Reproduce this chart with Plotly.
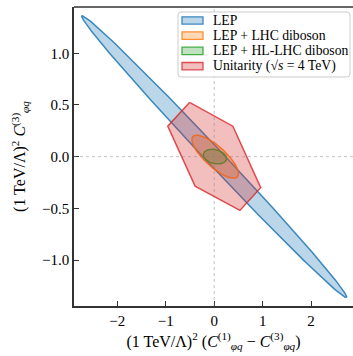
import numpy as np
import re
import plotly.graph_objects as go

# ---- data ----
# ellipses: centre and two conjugate half-diameters (data units)
lep_center = (0.0, 0.0)
lep_u = (2.725, -1.363)
lep_w = (0.235, 0.0)

lhc_center = (0.02, 0.0)
lhc_u = (0.46, -0.195)
lhc_w = (0.14, 0.075)

hllhc_center = (0.015, 0.0)
hllhc_u = (0.24, -0.022)
hllhc_w = (0.016, 0.068)

# unitarity hexagon vertices
unit_x = [-0.51, 0.385, 0.96, 0.53, -0.395, -0.96, -0.51]
unit_y = [0.525, 0.295, -0.30, -0.52, -0.285, 0.295, 0.525]

x_ticks = [-2, -1, 0, 1, 2]
y_ticks = [-1.0, -0.5, 0.0, 0.5, 1.0]
y_ticktext = ["−1.0", "−0.5", "0.0", "0.5", "1.0"]

labels = ["LEP", "LEP + LHC diboson", "LEP + HL-LHC diboson",
          "Unitarity (√<i>s</i> = 4 TeV)"]
fills = ["rgba(31,119,180,0.3)", "rgba(255,127,14,0.3)",
         "rgba(44,160,44,0.3)", "rgba(214,39,40,0.3)"]
edges = ["rgba(31,119,180,0.85)", "rgba(255,127,14,0.85)",
         "rgba(44,160,44,0.85)", "rgba(214,39,40,0.8)"]


def ellipse(c, u, w, n=300):
    t = np.linspace(0, 2 * np.pi, n)
    x = c[0] + np.cos(t) * u[0] + np.sin(t) * w[0]
    y = c[1] + np.cos(t) * u[1] + np.sin(t) * w[1]
    return x, y


# plot-area geometry in pixels (for legend placement)
W, H = 353, 356
ML, MR, MT, MB = 74, 0, 7, 50
PW, PH = W - ML - MR, H - MT - MB


def px(xp):
    return (xp - ML) / PW


def py(yp):
    return (H - MB - yp) / PH


fig = go.Figure()
shapes_xy = [ellipse(lep_center, lep_u, lep_w),
             ellipse(lhc_center, lhc_u, lhc_w),
             ellipse(hllhc_center, hllhc_u, hllhc_w),
             (unit_x, unit_y)]
for (x, y), lab, fc, ec in zip(shapes_xy, labels, fills, edges):
    fig.add_trace(go.Scatter(x=x, y=y, mode="lines", fill="toself",
                             fillcolor=fc, line=dict(color=ec, width=1.5),
                             name=lab, hoverinfo="skip", showlegend=False))

font_family = "Liberation Serif, DejaVu Serif, serif"

shapes = [
    dict(type="line", xref="x", yref="paper", x0=0, x1=0, y0=0, y1=1,
         line=dict(color="rgba(128,128,128,0.6)", width=0.8, dash="dot"),
         layer="above"),
    dict(type="line", xref="paper", yref="y", x0=0, x1=1, y0=0, y1=0,
         line=dict(color="rgba(128,128,128,0.6)", width=0.8, dash="dot"),
         layer="above"),
    dict(type="line", xref="paper", yref="paper", x0=0, x1=1, y0=1, y1=1,
         line=dict(color="#333333", width=1.5), layer="above"),
]

# manual legend (matplotlib style)
bx0, bx1, by0, by1, r = 178, 350, 12, 77, 3
path = (f"M {bx0 + r},{by0} L {bx1 - r},{by0} Q {bx1},{by0} {bx1},{by0 + r} "
        f"L {bx1},{by1 - r} Q {bx1},{by1} {bx1 - r},{by1} "
        f"L {bx0 + r},{by1} Q {bx0},{by1} {bx0},{by1 - r} "
        f"L {bx0},{by0 + r} Q {bx0},{by0} {bx0 + r},{by0} Z")


def conv(m):
    a, b = float(m.group(1)), float(m.group(2))
    return f"{px(a):.5f},{py(b):.5f}"


path = re.sub(r"([\d.]+),([\d.]+)", conv, path)
shapes.append(dict(type="path", xref="paper", yref="paper", path=path,
                   fillcolor="rgba(255,255,255,0.8)",
                   line=dict(color="rgba(204,204,204,1)", width=1),
                   layer="above"))

row_centers = [20.5, 35.6, 50.9, 66.2]
annotations = []
for rc, lab, fc, ec in zip(row_centers, labels, fills, edges):
    shapes.append(dict(type="rect", xref="paper", yref="paper",
                       x0=px(182), x1=px(203), y0=py(rc + 3.7), y1=py(rc - 3.7),
                       fillcolor=fc, line=dict(color=ec, width=1.3),
                       layer="above"))
    annotations.append(dict(xref="paper", yref="paper", x=px(211), y=py(rc),
                            xanchor="left", yanchor="middle", text=lab,
                            showarrow=False,
                            font=dict(family=font_family, size=13.7,
                                      color="black")))

fig.update_layout(
    width=W, height=H,
    margin=dict(l=ML, r=MR, t=MT, b=MB),
    plot_bgcolor="white", paper_bgcolor="white",
    font=dict(family=font_family, size=14, color="black"),
    showlegend=False,
    shapes=shapes,
    annotations=annotations,
)

fig.update_xaxes(
    range=[-2.895, 2.865], tickvals=x_ticks,
    showgrid=False, zeroline=False,
    showline=True, linecolor="#333333", linewidth=1.5, mirror=False,
    ticks="inside", ticklen=5, tickwidth=1, tickcolor="#333333",
    tickfont=dict(size=15),
    title=dict(text="(1 TeV/Λ)<sup>2</sup> (<i>C</i><sup>(1)</sup><sub><i>φq</i></sub> − <i>C</i><sup>(3)</sup><sub><i>φq</i></sub>)",
               font=dict(size=16), standoff=8),
)
fig.update_yaxes(
    range=[-1.445, 1.448], tickvals=y_ticks, ticktext=y_ticktext,
    showgrid=False, zeroline=False,
    showline=True, linecolor="#333333", linewidth=1.5, mirror=False,
    ticks="inside", ticklen=5, tickwidth=1, tickcolor="#333333",
    tickfont=dict(size=15),
    title=dict(text="(1 TeV/Λ)<sup>2</sup> <i>C</i><sup>(3)</sup><sub><i>φq</i></sub>",
               font=dict(size=16), standoff=12),
)

fig.write_html("out.html")
